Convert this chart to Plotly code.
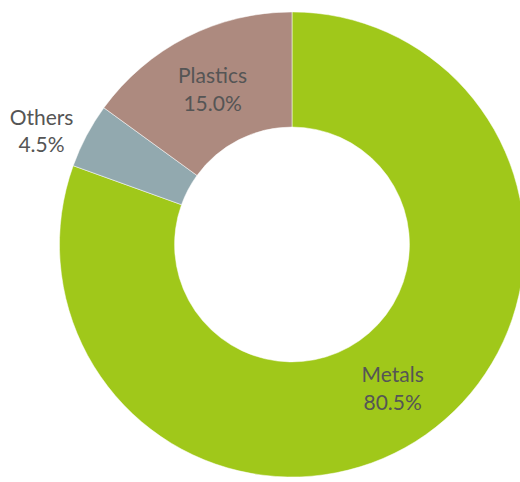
import plotly.graph_objects as go

labels = ["Metals", "Others", "Plastics"]
values = [80.5, 4.5, 15.0]
colors = ["#a0c81a", "#92a9af", "#ad8a7f"]
positions = ["inside", "outside", "inside"]

W, H = 584, 482
cx_top, cy_top, r = 292, 246, 234

fig = go.Figure(go.Pie(
    labels=labels,
    values=values,
    hole=0.505,
    sort=False,
    direction="clockwise",
    rotation=0,
    marker=dict(colors=colors, line=dict(color="rgba(255,255,255,0.5)", width=1)),
    texttemplate="%{label}<br>%{value:.1f}%",
    textposition=positions,
    insidetextorientation="horizontal",
    textfont=dict(family="Lato, Open Sans, sans-serif", size=21, color="#555555"),
    showlegend=False,
    domain=dict(x=[(cx_top - r) / W, (cx_top + r) / W],
                y=[(H - cy_top - r) / H, (H - cy_top + r) / H]),
))
fig.update_layout(
    width=W, height=H, autosize=False,
    margin=dict(l=0, r=0, t=0, b=0),
    paper_bgcolor="white", plot_bgcolor="white",
)
fig.write_html("out.html", post_script="document.body.style.margin='0';document.body.style.overflow='hidden';document.documentElement.style.overflow='hidden';")
